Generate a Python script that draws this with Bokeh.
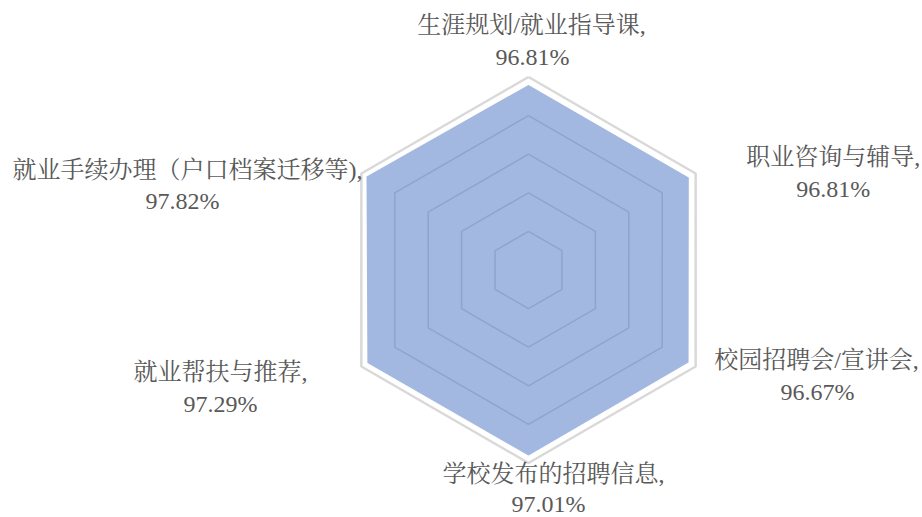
import math
from bokeh.plotting import figure
from bokeh.models import Range1d, ColumnDataSource
from bokeh.core.properties import value
from bokeh.embed import file_html
from bokeh.resources import INLINE

# ---- data ----
categories = ["生涯规划/就业指导课,", "职业咨询与辅导,", "校园招聘会/宣讲会,",
              "学校发布的招聘信息,", "就业帮扶与推荐,", "就业手续办理（户口档案迁移等),"]
values = [96.81, 96.81, 96.67, 97.01, 97.29, 97.82]
value_labels = ["96.81%", "96.81%", "96.67%", "97.01%", "97.29%", "97.82%"]
ring_levels = [20, 40, 60, 80, 100]
axis_max = 100

# ---- layout ----
W, H = 922, 517
cx, cy = 528, 247.5          # centre in plot pixels (y up)
R = 193.0                    # radius in px of axis_max
n = len(categories)
angles = [math.pi / 2 - i * 2 * math.pi / n for i in range(n)]

# label offsets in px from each data vertex (dx right, dy down)
name_off = [(3, -57.7), (143, -19.1), (126.4, -2.8), (25, 16.3), (-145.4, 8.6), (-177.5, -6.1)]
val_off = [(4, -26.2), (143, 12.4), (127.4, 28.7), (20, 46.3), (-145.4, 40.1), (-182.5, 25.4)]

p = figure(width=W, height=H, output_backend="svg", toolbar_location=None,
           x_range=Range1d(0, W), y_range=Range1d(0, H), min_border=0)
p.axis.visible = False
p.grid.visible = False
p.outline_line_color = None
p.background_fill_color = "white"
p.border_fill_color = "white"


def ring(level):
    r = R * level / axis_max
    xs = [cx + r * math.cos(a) for a in angles] + [cx + r * math.cos(angles[0])]
    ys = [cy + r * math.sin(a) for a in angles] + [cy + r * math.sin(angles[0])]
    return xs, ys


# outer ring (behind)
ox, oy = ring(ring_levels[-1])
p.line(ox, oy, line_color="#d9d9d9", line_width=2.5)

# data polygon
vx = [cx + R * v / axis_max * math.cos(a) for v, a in zip(values, angles)]
vy = [cy + R * v / axis_max * math.sin(a) for v, a in zip(values, angles)]
p.patch(vx, vy, fill_color="#a2b8e0", fill_alpha=1.0, line_color="white", line_width=3)

# inner rings (over fill)
for lv in ring_levels[:-1]:
    xs, ys = ring(lv)
    p.line(xs, ys, line_color="#8fa4ca", line_width=1.5)

font = value("'Liberation Serif', 'Noto Serif CJK SC', 'Noto Sans CJK SC'")
src_name = ColumnDataSource(dict(
    x=[x + d[0] for x, d in zip(vx, name_off)],
    y=[y - d[1] for y, d in zip(vy, name_off)],
    t=categories))
src_val = ColumnDataSource(dict(
    x=[x + d[0] for x, d in zip(vx, val_off)],
    y=[y - d[1] for y, d in zip(vy, val_off)],
    t=value_labels))
p.text(x="x", y="y", text="t", source=src_name, text_font=font,
       text_font_size="24px", text_color="#595959",
       text_align="center", text_baseline="middle")
p.text(x="x", y="y", text="t", source=src_val, text_font=font,
       text_font_size="24px", text_color="#595959",
       text_align="center", text_baseline="middle")

open("out.html", "w").write(file_html(p, INLINE))
